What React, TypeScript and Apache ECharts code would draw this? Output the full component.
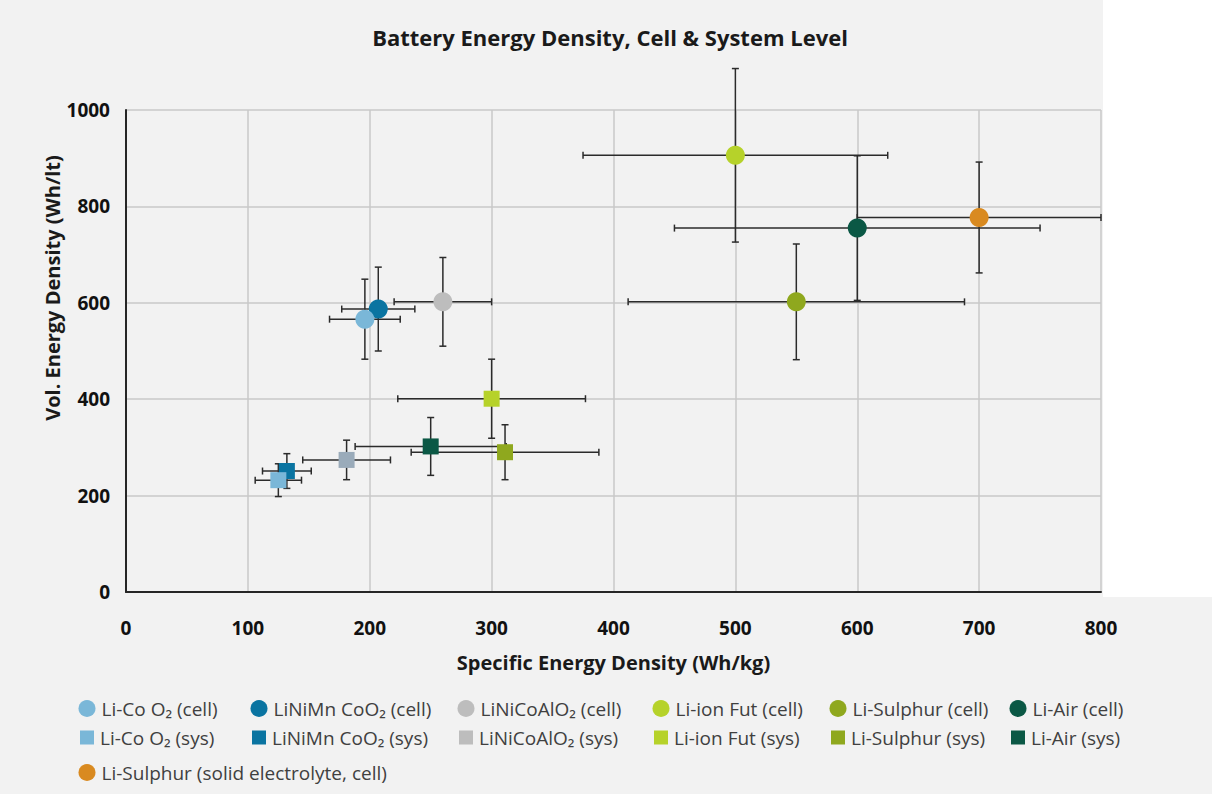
import React, { useEffect, useRef } from "react";
import * as echarts from "echarts";

const seriesNames = [
  "Li-Co O₂ (cell)",
  "LiNiMn CoO₂ (cell)",
  "LiNiCoAlO₂ (cell)",
  "Li-ion Fut (cell)",
  "Li-Sulphur (cell)",
  "Li-Air (cell)",
  "Li-Co O₂ (sys)",
  "LiNiMn CoO₂ (sys)",
  "LiNiCoAlO₂ (sys)",
  "Li-ion Fut (sys)",
  "Li-Sulphur (sys)",
  "Li-Air (sys)",
  "Li-Sulphur (solid electrolyte, cell)",
];
const specificEnergy = [196, 207, 260, 500, 550, 600, 125, 132, 181, 300, 311, 250, 700];
const volumetricEnergy = [566, 587, 602, 906, 602, 755, 232, 251, 274, 401, 290, 302, 777];
const specificError = [29, 30, 40, 125, 138, 150, 19, 20, 36, 77, 77, 62, 100];
const volumetricError = [83, 87, 92, 180, 120, 150, 34, 36, 41, 82, 57, 60, 115];
const markerColors = [
  "#7ab7d8", "#0a74a1", "#bdbdbd", "#b6d22a", "#8fa81e", "#0b5845",
  "#7ab7d8", "#0a74a1", "#9aabba", "#b6d22a", "#8fa81e", "#0b5845",
  "#d98a20",
];
const legendColors = [
  "#7ab7d8", "#0a74a1", "#bdbdbd", "#b6d22a", "#8fa81e", "#0b5845",
  "#7ab7d8", "#0a74a1", "#bdbdbd", "#b6d22a", "#8fa81e", "#0b5845",
  "#d98a20",
];
const isCell = [true, true, true, true, true, true, false, false, false, false, false, false, true];
// draw order (later on top)
const drawOrder = [1, 0, 2, 3, 4, 5, 7, 6, 8, 9, 10, 11, 12];

const legendCols = [87, 259, 466, 661, 838, 1018];
const legendRows = [712, 741, 776];

export default function App() {
  const ref = useRef<HTMLDivElement>(null);
  useEffect(() => {
    if (!ref.current) return;
    const chart = echarts.init(ref.current, null, { renderer: "svg" });
    const font = "'Open Sans', 'Noto Sans', sans-serif";

    const errData = specificEnergy.map((x, i) => [x, volumetricEnergy[i], specificError[i], volumetricError[i]]);

    const scatterSeries = drawOrder.map((i) => ({
      type: "scatter",
      name: seriesNames[i],
      symbol: isCell[i] ? "circle" : "rect",
      symbolSize: isCell[i] ? 19 : 16,
      itemStyle: { color: markerColors[i], opacity: 1 },
      z: 3,
      data: [[specificEnergy[i], volumetricEnergy[i]]],
    }));

    const legends = seriesNames.map((name, i) => {
      const col = i === 12 ? 0 : i % 6;
      const row = i === 12 ? 2 : i < 6 ? 0 : 1;
      const size = isCell[i] ? 17 : 14;
      return {
        show: true,
        left: legendCols[col] - size / 2,
        top: legendRows[row] - 13,
        padding: 0,
        itemWidth: size,
        itemHeight: size,
        icon: isCell[i] ? "circle" : "rect",
        selectedMode: false,
        textStyle: { fontFamily: font, fontSize: 19, color: "#404040", padding: [0, 0, 0, 1] },
        data: [{ name, icon: isCell[i] ? "circle" : "rect", itemStyle: { color: legendColors[i] } }],
      };
    });

    chart.setOption({
      animation: false,
      backgroundColor: "#f2f2f2",
      title: {
        text: "Battery Energy Density, Cell & System Level",
        left: 605,
        top: 21,
        textAlign: "center",
        textStyle: { fontFamily: font, fontSize: 22, fontWeight: "bold", color: "#1a1a1a" },
      },
      graphic: [
        { type: "rect", left: 1103, top: 0, shape: { width: 109, height: 597 }, style: { fill: "#ffffff" }, z: -10 },
        {
          type: "text",
          x: 52,
          y: 288,
          rotation: Math.PI / 2,
          style: {
            text: "Vol. Energy Density (Wh/lt)",
            fontFamily: font,
            fontSize: 20,
            fontWeight: "bold",
            fill: "#1a1a1a",
            align: "center",
            verticalAlign: "middle",
          },
        },
      ],
      legend: legends,
      grid: { left: 126, right: 111, top: 110, bottom: 202, containLabel: false },
      xAxis: {
        type: "value",
        min: 0,
        max: 800,
        interval: 100,
        name: "Specific Energy Density (Wh/kg)",
        nameLocation: "middle",
        nameGap: 60,
        nameTextStyle: { fontFamily: font, fontSize: 20, fontWeight: "bold", color: "#1a1a1a" },
        axisLine: { show: true, lineStyle: { color: "#262626", width: 2 } },
        axisTick: { show: false },
        splitLine: { show: true, lineStyle: { color: "#c9c9c9", width: 1.5 } },
        axisLabel: { fontFamily: font, fontSize: 19, fontWeight: "bold", color: "#111", margin: 26, formatter: (v: number) => String(v) },
      },
      yAxis: {
        type: "value",
        min: 0,
        max: 1000,
        interval: 200,
        axisLine: { show: true, lineStyle: { color: "#262626", width: 2 } },
        axisTick: { show: false },
        splitLine: { show: true, lineStyle: { color: "#c9c9c9", width: 1.5 } },
        axisLabel: { fontFamily: font, fontSize: 19, fontWeight: "bold", color: "#111", margin: 16, formatter: (v: number) => String(v) },
      },
      series: [
        {
          type: "custom",
          name: "errorbars",
          clip: false,
          z: 1,
          encode: { x: 0, y: 1 },
          data: errData,
          renderItem: (params: any, api: any) => {
            const x = api.value(0);
            const y = api.value(1);
            const ex = api.value(2);
            const ey = api.value(3);
            const l = api.coord([x - ex, y]);
            const r = api.coord([x + ex, y]);
            const t = api.coord([x, y + ey]);
            const b = api.coord([x, y - ey]);
            const cap = 3.5;
            const style = { stroke: "#2b2b2b", lineWidth: 1.5 };
            const line = (x1: number, y1: number, x2: number, y2: number) => ({
              type: "line",
              shape: { x1, y1, x2, y2 },
              style,
            });
            return {
              type: "group",
              children: [
                line(l[0], l[1], r[0], r[1]),
                line(l[0], l[1] - cap, l[0], l[1] + cap),
                line(r[0], r[1] - cap, r[0], r[1] + cap),
                line(t[0], t[1], b[0], b[1]),
                line(t[0] - cap, t[1], t[0] + cap, t[1]),
                line(b[0] - cap, b[1], b[0] + cap, b[1]),
              ],
            };
          },
        },
        ...scatterSeries,
      ],
    });
    return () => chart.dispose();
  }, []);
  return <div ref={ref} style={{ position: "absolute", left: 0, top: 0, width: 1212, height: 794 }} />;
}
